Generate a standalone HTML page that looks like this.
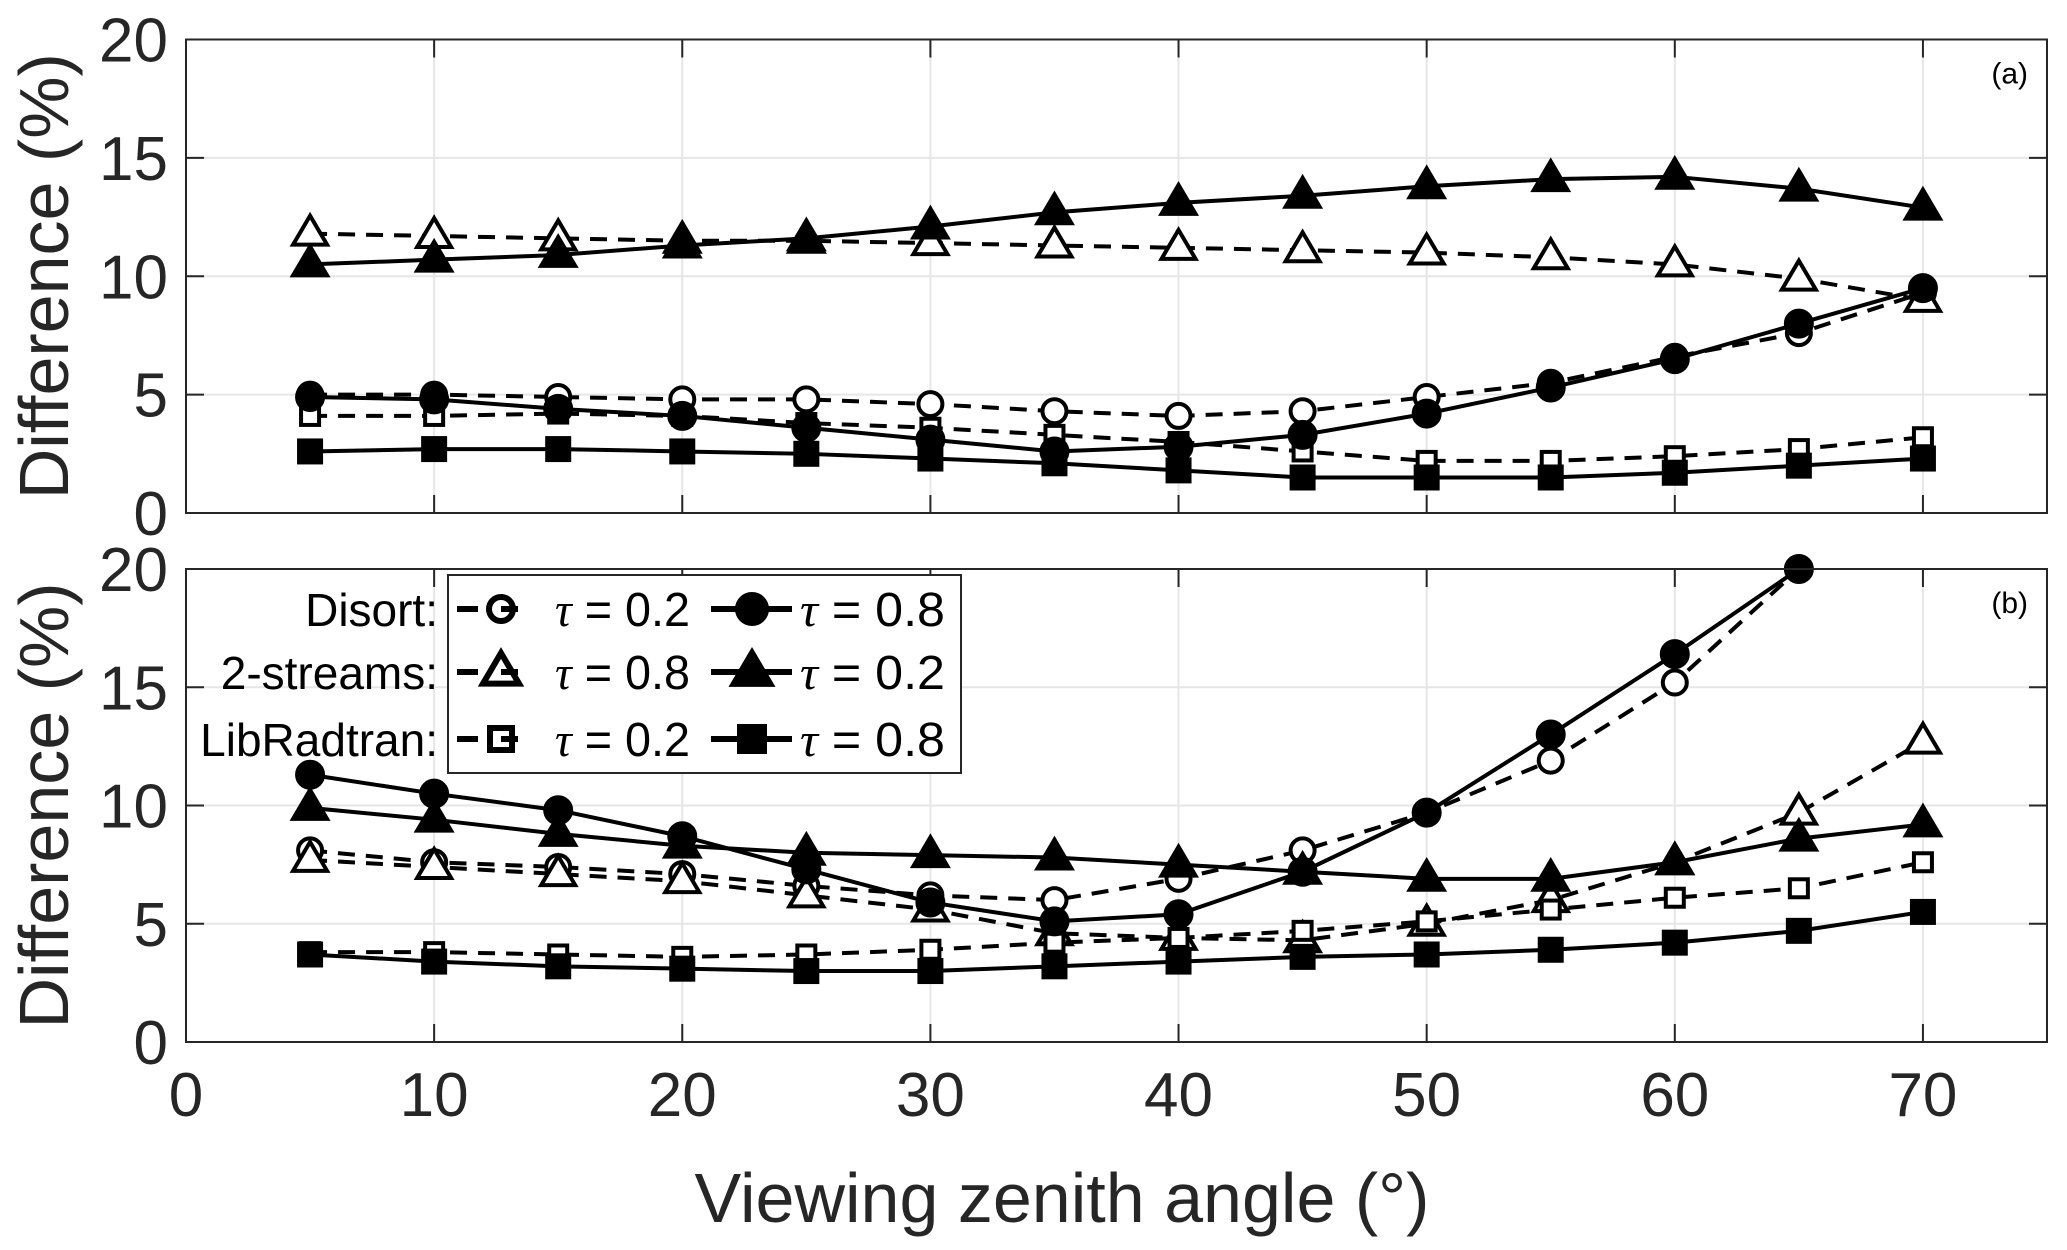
<!DOCTYPE html>
<html><head><meta charset="utf-8"><style>
html,body{margin:0;padding:0;background:#fff}
svg{display:block}
text{font-family:"Liberation Sans",sans-serif}
</style></head><body>
<svg id="chart" width="2067" height="1250" viewBox="0 0 2067 1250" xmlns="http://www.w3.org/2000/svg"></svg>
<script>
const angles=[5,10,15,20,25,30,35,40,45,50,55,60,65,70];
const xTicks=[0,10,20,30,40,50,60,70];
const yTicks=[0,5,10,15,20];
// panel a
const aDisort02=[5.0,5.0,4.9,4.8,4.8,4.6,4.3,4.1,4.3,4.9,5.5,6.6,7.6,9.3];
const aDisort08=[4.9,4.8,4.4,4.1,3.6,3.1,2.6,2.8,3.3,4.2,5.3,6.5,8.0,9.5];
const aTwo08=[11.8,11.7,11.6,11.5,11.5,11.4,11.3,11.2,11.1,11.0,10.8,10.5,9.9,9.0];
const aTwo02=[10.5,10.7,10.9,11.3,11.6,12.1,12.7,13.1,13.4,13.8,14.1,14.2,13.7,12.9];
const aLib02=[4.1,4.1,4.2,4.1,3.8,3.6,3.3,3.0,2.6,2.2,2.2,2.4,2.7,3.2];
const aLib08=[2.6,2.7,2.7,2.6,2.5,2.3,2.1,1.8,1.5,1.5,1.5,1.7,2.0,2.3];
// panel b
const bDisort02=[8.1,7.6,7.4,7.1,6.6,6.2,6.0,6.9,8.1,9.7,11.9,15.2,20.0];
const bDisort08=[11.3,10.5,9.8,8.7,7.3,5.9,5.1,5.4,7.2,9.7,13.0,16.4,20.0];
const bTwo08=[7.7,7.4,7.1,6.8,6.2,5.6,4.6,4.4,4.3,5.0,6.0,7.6,9.7,12.7];
const bTwo02=[9.9,9.4,8.8,8.3,8.0,7.9,7.8,7.5,7.2,6.9,6.9,7.6,8.6,9.2];
const bLib02=[3.8,3.8,3.7,3.6,3.7,3.9,4.2,4.4,4.7,5.1,5.6,6.1,6.5,7.6];
const bLib08=[3.7,3.4,3.2,3.1,3.0,3.0,3.2,3.4,3.6,3.7,3.9,4.2,4.7,5.5];

const svg=document.getElementById('chart');
const NS='http://www.w3.org/2000/svg';
function mk(tag,attrs,parent){const e=document.createElementNS(NS,tag);for(const k in attrs)e.setAttribute(k,attrs[k]);(parent||svg).appendChild(e);return e;}
const X0=186,X1=2047;
function xs(v){return X0+(v-0)/(75-0)*(X1-X0);}
function makeY(top,bot){return v=>bot-(v/20)*(bot-top);}

function marker(g,type,filled,cx,cy,size,sw){
  let e;
  const fill=filled?'#000':'#fff';
  const w=sw||4;
  if(type==='circle'){e=mk('circle',{cx:cx,cy:cy,r:size,fill:fill,stroke:'#000','stroke-width':w},g);}
  else if(type==='tri'){const h=size*1.7;e=mk('polygon',{points:`${cx},${cy-h*0.62} ${cx-size},${cy+h*0.38} ${cx+size},${cy+h*0.38}`,fill:fill,stroke:'#000','stroke-width':w,'stroke-linejoin':'miter'},g);}
  else {e=mk('rect',{x:cx-size,y:cy-size,width:2*size,height:2*size,fill:fill,stroke:'#000','stroke-width':w},g);}
  return e;
}

function panel(name,top,bot,series,label){
  const ys=makeY(top,bot);
  const g=mk('g',{});
  
  
  mk('rect',{x:X0,y:top,width:X1-X0,height:bot-top,fill:'#fff'},g);
  xTicks.forEach(t=>{
    const l=mk('line',{x1:xs(t),x2:xs(t),y1:top,y2:bot,stroke:'#e6e6e6','stroke-width':2},g);
    
    
  });
  yTicks.forEach(t=>{
    const l=mk('line',{x1:X0,x2:X1,y1:ys(t),y2:ys(t),stroke:'#e6e6e6','stroke-width':2},g);
    
    
  });
  xTicks.forEach(t=>{
    mk('line',{x1:xs(t),x2:xs(t),y1:top,y2:top+18,stroke:'#262626','stroke-width':2},g);
    mk('line',{x1:xs(t),x2:xs(t),y1:bot,y2:bot-18,stroke:'#262626','stroke-width':2},g);
  });
  yTicks.forEach(t=>{
    mk('line',{x1:X0,x2:X0+18,y1:ys(t),y2:ys(t),stroke:'#262626','stroke-width':2},g);
    mk('line',{x1:X1,x2:X1-18,y1:ys(t),y2:ys(t),stroke:'#262626','stroke-width':2},g);
    const tx=mk('text',{x:168,y:ys(t)+22,'text-anchor':'end','font-size':62,fill:'#262626'},g);
    tx.textContent=t;
    
    
  });
  series.forEach(s=>{
    const sg=mk('g',{},g);
    
    
    const pts=s.data.map((v,i)=>xs(angles[i])+','+ys(v)).join(' ');
    mk('polyline',{points:pts,fill:'none',stroke:'#000','stroke-width':4,'stroke-dasharray':s.dash?'17 11':'none'},sg);
    s.data.forEach((v,i)=>{
      const m=marker(sg,s.type,s.filled,xs(angles[i]),ys(v),s.size);
      
      
    });
  });
  mk('rect',{x:X0,y:top,width:X1-X0,height:bot-top,fill:'none',stroke:'#262626','stroke-width':2},g);
  const lab=mk('text',{x:2028,y:top+44,'text-anchor':'end','font-size':30,fill:'#000'},g);
  lab.textContent=label;
  
  
  const yl=mk('text',{x:0,y:0,'text-anchor':'middle','font-size':70,fill:'#262626',transform:`translate(68,${(top+bot)/2}) rotate(-90)`},g);
  yl.textContent='Difference (%)';
  
  
  return ys;
}

panel('panel-a',39.5,513,[
  {name:'disort-tau02',data:aDisort02,type:'circle',filled:false,dash:true,size:12},
  {name:'two-streams-tau08',data:aTwo08,type:'tri',filled:false,dash:true,size:17},
  {name:'libradtran-tau02',data:aLib02,type:'rect',filled:false,dash:true,size:9},
  {name:'disort-tau08',data:aDisort08,type:'circle',filled:true,dash:false,size:13},
  {name:'two-streams-tau02',data:aTwo02,type:'tri',filled:true,dash:false,size:17},
  {name:'libradtran-tau08',data:aLib08,type:'rect',filled:true,dash:false,size:11}
],'(a)');
panel('panel-b',569,1042,[
  {name:'disort-tau02',data:bDisort02,type:'circle',filled:false,dash:true,size:12},
  {name:'two-streams-tau08',data:bTwo08,type:'tri',filled:false,dash:true,size:17},
  {name:'libradtran-tau02',data:bLib02,type:'rect',filled:false,dash:true,size:9},
  {name:'disort-tau08',data:bDisort08,type:'circle',filled:true,dash:false,size:13},
  {name:'two-streams-tau02',data:bTwo02,type:'tri',filled:true,dash:false,size:17},
  {name:'libradtran-tau08',data:bLib08,type:'rect',filled:true,dash:false,size:11}
],'(b)');

xTicks.forEach(t=>{
  const tx=mk('text',{x:xs(t),y:1116,'text-anchor':'middle','font-size':62,fill:'#262626'});
  tx.textContent=t;
  
  
});
const xl=mk('text',{x:1062,y:1222,'text-anchor':'middle','font-size':70,fill:'#262626'});
xl.textContent='Viewing zenith angle (°)';



// legend
const lg=mk('g',{});


mk('rect',{x:448,y:575,width:513,height:198,fill:'#fff',stroke:'#262626','stroke-width':2},lg);
const rowNames=['Disort:','2-streams:','LibRadtran:'];
const rowTypes=['circle','tri','rect'];
const col1=['0.2','0.8','0.2'];
const col2=['0.8','0.2','0.8'];
const rowY=[609,672,739];
function tauText(x,y,val,w){
  const t=mk('text',{x:x,y:y,'font-size':48,fill:'#000',textLength:w,lengthAdjust:'spacingAndGlyphs'},lg);
  const ts=mk('tspan',{'font-family':'Liberation Serif, serif','font-style':'italic'},t);
  ts.textContent='τ';
  const ts2=mk('tspan',{},t);
  ts2.textContent=' = '+val;
  
  
  return t;
}
rowNames.forEach((n,i)=>{
  const cy=rowY[i];
  const t=mk('text',{x:438,y:cy+17,'text-anchor':'end','font-size':46,fill:'#000'},lg);
  t.textContent=n;
  
  
  mk('line',{x1:457,x2:478,y1:cy,y2:cy,stroke:'#000','stroke-width':6},lg);
  const sz1=rowTypes[i]==='rect'?11:(rowTypes[i]==='tri'?18:12);
  const m1=marker(lg,rowTypes[i],false,501,cy,sz1,6);
  
  
  mk('line',{x1:501,x2:518,y1:cy,y2:cy,stroke:'#000','stroke-width':6},lg);
  tauText(555,cy+17,col1[i],135);
  mk('line',{x1:711,x2:792,y1:cy,y2:cy,stroke:'#000','stroke-width':6},lg);
  const sz2=rowTypes[i]==='rect'?13:(rowTypes[i]==='tri'?20:15);
  const m2=marker(lg,rowTypes[i],true,752,cy,sz2);
  
  
  tauText(800,cy+17,col2[i],145);
});
</script>
</body></html>
